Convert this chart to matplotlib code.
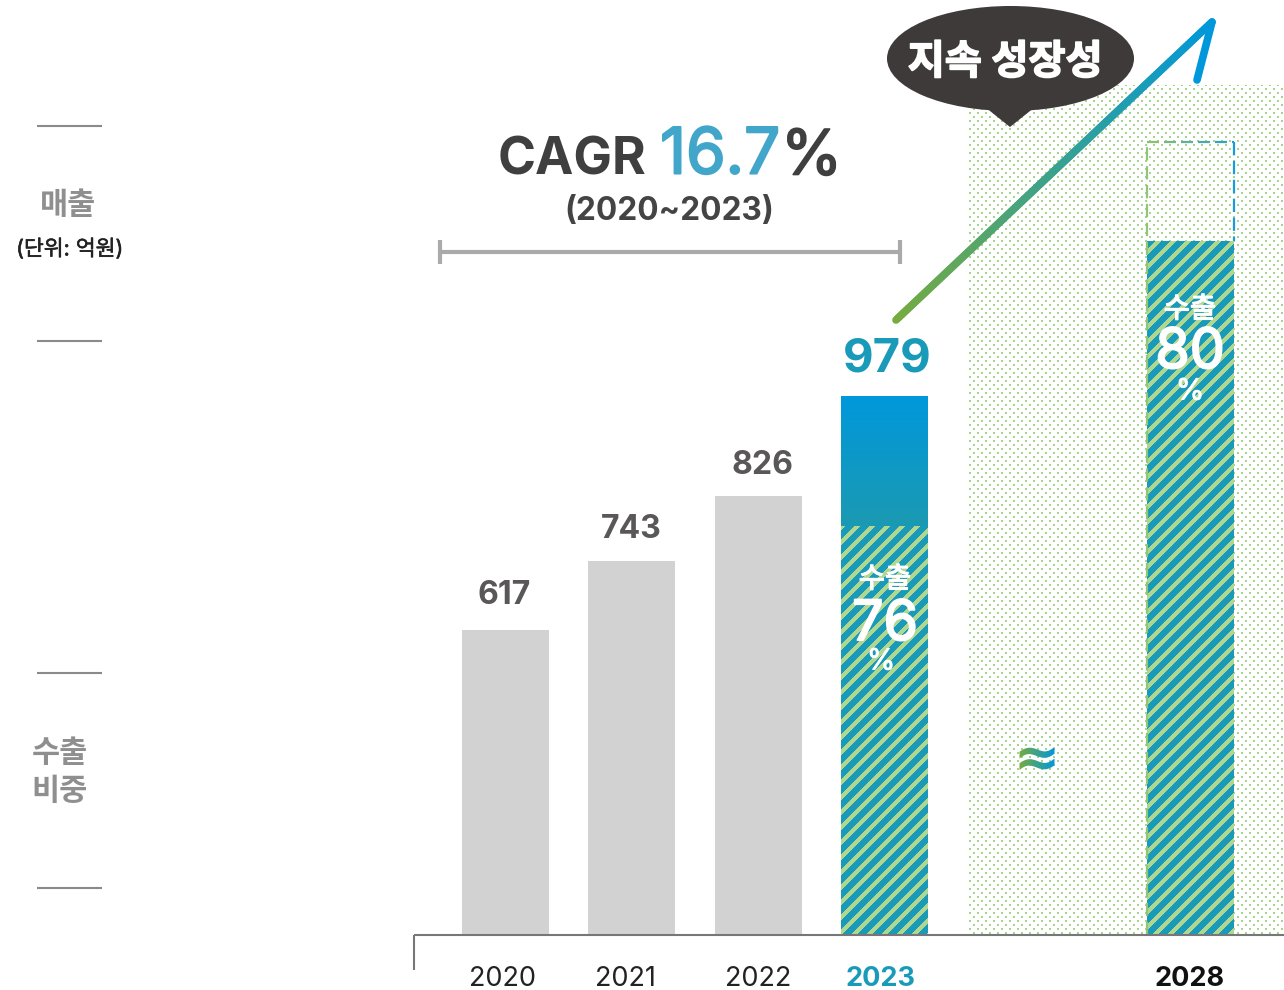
import numpy as np
import matplotlib
matplotlib.use("Agg")
import matplotlib.pyplot as plt
from matplotlib.patches import Ellipse, Polygon, PathPatch
from matplotlib.collections import LineCollection
from matplotlib.textpath import TextPath
from matplotlib.font_manager import FontProperties
from matplotlib.transforms import Affine2D
from matplotlib.colors import to_rgb
import matplotlib.patheffects as pe

plt.rcParams['font.family'] = ['Inter', 'Noto Sans CJK KR', 'DejaVu Sans']

# ---- data ----
years = ['2020', '2021', '2022', '2023']
sales = [617, 743, 826, 979]
# drawn bar heights (the picture's bars are not linear in value)
bar_heights = [305, 374, 439, 539]
export_height_2023 = 409
export_share_2023 = 76
future_year = '2028'
future_export_height = 694
future_total_height = 793
future_export_share = 80
cagr_text = '16.7'
cagr_period = '(2020~2023)'
bubble_label = '지속 성장성'
side_rules = [126, 341, 673, 888]

BASE = 935
W, H = 1284, 990
GREY = '#d2d2d2'
TEAL = '#1a9ab9'
STRIPE = '#afd78f'
DOT = '#a6d48c'
DARK = '#3e3a39'

fig = plt.figure(figsize=(W / 100, H / 100), dpi=100)
ax = fig.add_axes([0, 0, 1, 1])
ax.set_axis_off()


def Y(p):
    """pixel row -> height above the baseline"""
    return BASE - p


def heavy(color, w):
    return [pe.withStroke(linewidth=w, foreground=color)]


def texture(kind, l, r, bottom, top):
    """pixel-scale decoration (stripes or dots) as an RGBA image"""
    xs = np.arange(int(l), int(r))
    ys = np.arange(int(BASE - top), int(BASE - bottom))
    xx, yy = np.meshgrid(xs, ys)
    if kind == 'stripes':
        mask = ((xx + yy) % 15) < 6
        c = to_rgb(STRIPE)
    else:
        mask = ((yy % 4 < 2) & (((xx - int(l) + 4 * ((yy // 4) % 2)) % 8) < 2))
        c = to_rgb(DOT)
    img = np.zeros(mask.shape + (4,))
    img[..., :3] = c
    img[..., 3] = mask
    return ax.imshow(img, extent=(l, r, bottom, top), origin='upper',
                     interpolation='nearest', aspect='auto')


def vgrad(c_top, c_bot, l, r, bottom, top, zorder):
    t = np.linspace(0, 1, 256)[:, None, None]
    a, b = np.array(to_rgb(c_top)), np.array(to_rgb(c_bot))
    img = a[None, None, :] * (1 - t) + b[None, None, :] * t
    return ax.imshow(img, extent=(l, r, bottom, top), origin='upper', aspect='auto',
                     interpolation='bilinear', zorder=zorder)


# dotted future zone
im = texture('dots', 969, W, 0, Y(85))
im.set_zorder(0.5)

# bars
centers = [505.5, 631.5, 758.5, 884.5]
bw = 87
ax.bar(centers[:3], bar_heights[:3], width=bw, color=GREY, zorder=2)

# 2023 bar
top_part = ax.bar(centers[3], bar_heights[3] - export_height_2023, bottom=export_height_2023,
                  width=bw, color='#0098db', zorder=2)[0]
vgrad('#0098db', '#1b9ab2', centers[3] - bw / 2, centers[3] + bw / 2, export_height_2023,
      bar_heights[3], 2.1)
exp = ax.bar(centers[3], export_height_2023, width=bw, color=TEAL, zorder=2)[0]
s = texture('stripes', centers[3] - bw / 2, centers[3] + bw / 2, 0, export_height_2023)
s.set_zorder(2.2)

# 2028 bar
fx = 1190
ax.bar(fx, future_export_height, width=bw, color=TEAL, zorder=2)
s = texture('stripes', fx - bw / 2, fx + bw / 2, 0, future_export_height)
s.set_zorder(2.2)

# dashed outline of the 2028 target
lft, rgt = fx - bw / 2, fx + bw / 2
ax.plot([lft, lft], [0, future_total_height], color='#8fc67a', lw=1.6,
        dashes=(6, 2.5), zorder=3)
ax.plot([rgt, rgt], [future_total_height, future_export_height], color='#1b9cd6', lw=1.6,
        dashes=(6, 2.5), zorder=3)
g0, b0 = np.array(to_rgb('#8bbf72')), np.array(to_rgb('#1b9cd6'))
edges = np.arange(lft, rgt, 17)
top_segs = [[(x, future_total_height), (min(x + 12, rgt), future_total_height)] for x in edges]
top_cols = [g0 * (1 - (x - lft) / bw) + b0 * (x - lft) / bw for x in edges]
ax.add_collection(LineCollection(top_segs, colors=top_cols, linewidths=1.6, zorder=3))

# axis
ax.plot([414, W], [0, 0], color='#777777', lw=1.5, zorder=4, solid_capstyle='butt')
ax.plot([414, 414], [0, Y(970)], color='#777777', lw=1.5, zorder=4, solid_capstyle='butt')

# bar value labels
label_x = [504, 631, 762.5]
label_rows = [596, 530, 466]
for c, v, r in zip(label_x, sales[:3], label_rows):
    ax.text(c, Y(r), str(v), ha='center', va='center', fontsize=23,
            fontweight='bold', color='#595757', zorder=6)
ax.text(887, Y(360), str(sales[3]), ha='center', va='center', fontsize=34,
        fontweight='bold', color='#1a9ab9', zorder=6)

# tick labels
tick_x = [502.5, 625.5, 758.5, 880.5]
for x, y in zip(tick_x[:3], years[:3]):
    ax.text(x, Y(979), y, ha='center', va='center', fontsize=19.5, color='#222222', zorder=6)
ax.text(tick_x[3], Y(979), years[3], ha='center', va='center', fontsize=19.5,
        fontweight='bold', color='#1a9ab9', zorder=6)
ax.text(fx, Y(979), future_year, ha='center', va='center', fontsize=19.5,
        fontweight='bold', color='#111111', zorder=6)

# share labels in the bars
for cx, r0, num_off, share in [(885, 580, 45, export_share_2023), (1190, 310, 43, future_export_share)]:
    ax.text(cx, Y(r0), '수출', ha='center', va='center', fontsize=20.5,
            color='white', zorder=6, path_effects=heavy('white', 0.9))
    ax.text(cx, Y(r0 + num_off), str(share), ha='center', va='center', fontsize=40,
            color='white', zorder=6, path_effects=heavy('white', 1.4))
    ax.text(cx - (4 if share == export_share_2023 else 0), Y(r0 + 82), '%', ha='center',
            va='center', fontsize=21, color='white', zorder=6, path_effects=heavy('white', 0.6))

# CAGR header
ax.text(572, Y(161), 'CAGR', ha='center', va='center', fontsize=37, fontweight='bold',
        color='#3f3f3f', zorder=6)
ax.text(720, Y(157), cagr_text, ha='center', va='center', fontsize=46,
        color='#41a6c9', zorder=6, path_effects=heavy('#41a6c9', 1.5))
ax.text(811.5, Y(158), '%', ha='center', va='center', fontsize=45,
        color='#3f3f3f', zorder=6, path_effects=heavy('#3f3f3f', 1.2))
ax.text(669, Y(212), cagr_period, ha='center', va='center', fontsize=22.8, fontweight='bold',
        color='#444444', zorder=6)

# CAGR bracket
ax.plot([440, 900], [Y(252), Y(252)], color='#aaaaaa', lw=3, solid_capstyle='butt', zorder=3)
for x in (440, 900):
    ax.plot([x, x], [Y(240), Y(264)], color='#aaaaaa', lw=3, solid_capstyle='butt', zorder=3)

# left side rules and labels
for r in side_rules:
    ax.plot([37, 102], [Y(r), Y(r)], color='#8a8a8a', lw=1.5, solid_capstyle='butt')
ax.text(68, Y(206), '매출', ha='center', va='center', fontsize=22, fontweight='bold',
        color='#8f8f8f')
ax.text(69.5, Y(249), '(단위: 억원)', ha='center', va='center', fontsize=15.5, color='#222222',
        path_effects=heavy('#222222', 0.4))
ax.text(60, Y(754), '수출', ha='center', va='center', fontsize=22, fontweight='bold',
        color='#8f8f8f')
ax.text(60, Y(792), '비중', ha='center', va='center', fontsize=22, fontweight='bold',
        color='#8f8f8f')

# speech bubble
ax.add_patch(Ellipse((1010.5, Y(58.5)), 247, 105, color=DARK, lw=0, zorder=4))
ax.add_patch(Polygon([(985, Y(107)), (1010, Y(127)), (1035, Y(107))], color=DARK, lw=0, zorder=4))
ax.text(1005, Y(63), bubble_label, ha='center', va='center', fontsize=29, fontweight='bold',
        color='white', zorder=6, path_effects=heavy('white', 1.2))

# growth arrow, gradient green -> blue
n = 160
xs = np.linspace(896, 1212, n)
ys = np.linspace(Y(320), Y(22), n)
pts = np.column_stack([xs, ys])
segs = np.stack([pts[:-1], pts[1:]], axis=1)
c0, c1 = np.array(to_rgb('#76ab3f')), np.array(to_rgb('#0098db'))
f = np.linspace(0, 1, n - 1)[:, None]
ax.add_collection(LineCollection(segs, colors=c0 * (1 - f) + c1 * f, linewidths=5.5,
                                 capstyle='round', zorder=5))
ax.plot([1212, 1197], [Y(22), Y(80)], color='#0098db', lw=5.5, solid_capstyle='round', zorder=5)

# gradient break mark
tp = TextPath((0, 0), '≈', size=60, prop=FontProperties(family='DejaVu Sans', weight='bold'))
bb = tp.get_extents()
tr = (Affine2D().translate(-bb.x0, -bb.y0).scale(35 / bb.width, 23 / bb.height)
      .translate(1019.5, Y(770)) + ax.transData)
clip = PathPatch(tp, transform=tr, facecolor='none', edgecolor='none')
ax.add_patch(clip)
t = np.linspace(0, 1, 64)[None, :, None]
a, b = np.array(to_rgb('#76ab3f')), np.array(to_rgb('#0098db'))
grad = a[None, None, :] * (1 - t) + b[None, None, :] * t
gi = ax.imshow(grad, extent=(1019, 1055, Y(771), Y(746)), origin='upper', aspect='auto',
               interpolation='bilinear', zorder=5)
gi.set_clip_path(clip)

ax.set_xlim(0, W)
ax.set_ylim(-(H - BASE), BASE)
fig.savefig('out.png', dpi=100, facecolor='white')
